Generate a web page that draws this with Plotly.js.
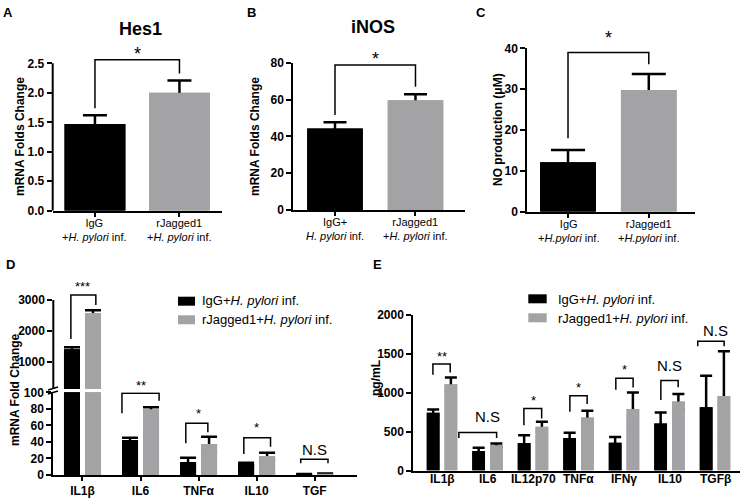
<!DOCTYPE html>
<html><head><meta charset="utf-8">
<script src="https://cdn.plot.ly/plotly-3.0.1.min.js"></script>
<style>html,body{margin:0;padding:0;background:#fff}#chart{width:742px;height:498px}</style>
</head><body><div id="chart"></div>
<script>
// ---------- Panel A: Hes1 ----------
const aGroups = ['IgG', 'rJagged1'];
const aSub = ['+<i>H. pylori</i> inf.', '+<i>H. pylori</i> inf.'];
const aMean = [1.47, 2.00];
const aErr = [0.15, 0.21];
const aSig = {top: 2.56, left: 1.74, right: 2.33, text: '*'};
// ---------- Panel B: iNOS ----------
const bGroups = ['IgG+', 'rJagged1'];
const bSub = ['<i>H. pylori</i> inf.', '+<i>H. pylori</i> inf.'];
const bMean = [44.2, 59.6];
const bErr = [3.4, 3.2];
const bSig = {top: 78.8, left: 51.6, right: 67.0, text: '*'};
// ---------- Panel C: NO production ----------
const cGroups = ['IgG', 'rJagged1'];
const cSub = ['+<i>H.pylori</i> inf.', '+<i>H.pylori</i> inf.'];
const cMean = [12.1, 29.8];
const cErr = [3.0, 3.9];
const cSig = {top: 39.0, left: 18.0, right: 36.1, text: '*'};
// ---------- Panel D: mRNA fold change ----------
const dCats = ['IL1β', 'IL6', 'TNFα', 'IL10', 'TGF'];
const dIgG = [1400, 42.3, 15.7, 13.3, 1.0];
const dIgGErr = [65, 2.7, 5.3, 1.6, 0.3];
const dJag = [2580, 79.4, 37.5, 23.0, 1.5];
const dJagErr = [85, 2.5, 8.8, 4.0, 0.4];
const dSigText = ['***', '**', '*', '*', 'N.S'];
const dSigTop = [3166, 98.8, 62.5, 45.1, 19.0];
const dSigLeft = [1737, 74.6, 38.3, 25.4, 14.1];
const dSigRight = [2840, 89.8, 51.6, 34.2, 14.1];
const dSigAxis = ['y6', 'y4', 'y4', 'y4', 'y4'];
const dLegL = [-0.20, -0.32, -0.22, -0.22, -0.24];
const dLegR = [0.23, 0.32, 0.16, 0.24, 0.23];
// ---------- Panel E: cytokines pg/mL ----------
const eCats = ['IL1β', 'IL6', 'IL12p70', 'TNFα', 'IFNγ', 'IL10', 'TGFβ'];
const eIgG = [743, 250, 354, 419, 358, 605, 812];
const eIgGErr = [43, 44, 100, 65, 74, 142, 406];
const eJag = [1110, 324, 562, 683, 790, 886, 959];
const eJagErr = [87, 22, 64, 86, 212, 99, 574];
const eSigText = ['**', 'N.S', '*', '*', '*', 'N.S', 'N.S'];
const eSigTop = [1369, 488, 799, 963, 1188, 1158, 1663];
const eSigLeft = [1231, 419, 583, 756, 1037, 907, 1598];
const eSigRight = [1261, 419, 670, 855, 1067, 1071, 1598];
const eLegL = [-0.20, -0.63, -0.20, -0.19, -0.18, -0.19, -0.38];
const eLegR = [0.18, 0.20, 0.19, 0.19, 0.20, 0.19, 0.20];
const seriesNames = ['IgG+<i>H. pylori</i> inf.', 'rJagged1+<i>H. pylori</i> inf.'];

const BLACK = '#000000', GRAY = '#a3a3a6';
const F = 'Liberation Sans, Arial, Helvetica, sans-serif';
const W = 742, H = 498;
const X = px => px / W, Y = py => 1 - py / H;

function axis(extra) {
  return Object.assign({
    showgrid: false, zeroline: false, showline: true, linecolor: '#000', linewidth: 2,
    ticks: 'outside', tickcolor: '#000', tickwidth: 2, ticklen: 5,
    tickfont: {family: F, size: 12, color: '#000', weight: 'bold'}, fixedrange: true
  }, extra);
}
function catAxis(labels, extra) {
  return axis(Object.assign({
    tickmode: 'array', tickvals: labels.map((_, i) => i), ticktext: labels, ticklen: 4
  }, extra));
}
// bar with symmetric error bar, then the same bar redrawn on top so only the upper half shows
function barPair(xa, ya, vals, errs, color, w, off, capw) {
  const base = {type: 'bar', x: vals.map((_, i) => i), y: vals, xaxis: xa, yaxis: ya, width: w,
    marker: {color: color, line: {width: 0}}, hoverinfo: 'skip'};
  if (off !== null) base.offset = off;
  const withErr = Object.assign({}, base, {error_y: {type: 'data', symmetric: true, array: errs,
    color: '#000', thickness: 2.5, width: capw}});
  return [withErr, base];
}
function bracket(xa, ya, x0, x1, yl, top, yr, lw) {
  return {type: 'path', xref: xa, yref: ya,
    path: `M${x0},${yl} L${x0},${top} L${x1},${top} L${x1},${yr}`,
    line: {color: '#000', width: lw}};
}
function txt(text, x, y, xref, yref, size, weight, extra) {
  return Object.assign({text: text, x: x, y: y, xref: xref, yref: yref, showarrow: false,
    font: {family: F, size: size, color: '#000', weight: weight || 'normal'},
    xanchor: 'center', yanchor: 'middle'}, extra || {});
}

const upperOnly = arr => arr.map((v, i) => (dIgG[i] > 100 || dJag[i] > 100) ? v : null);

const data = [].concat(
  barPair('x', 'y', aMean, aErr, [BLACK, GRAY], 0.72, null, 12),
  barPair('x2', 'y2', bMean, bErr, [BLACK, GRAY], 0.69, null, 11.5),
  barPair('x3', 'y3', cMean, cErr, [BLACK, GRAY], 0.69, null, 17),
  barPair('x4', 'y4', dIgG, dIgGErr, BLACK, 0.276, -0.319, 8),
  barPair('x4', 'y4', dJag, dJagErr, GRAY, 0.276, 0.043, 8),
  barPair('x4', 'y6', upperOnly(dIgG), upperOnly(dIgGErr), BLACK, 0.276, -0.319, 8),
  barPair('x4', 'y6', upperOnly(dJag), upperOnly(dJagErr), GRAY, 0.276, 0.043, 8),
  barPair('x5', 'y5', eIgG, eIgGErr, BLACK, 0.28, -0.335, 6),
  barPair('x5', 'y5', eJag, eJagErr, GRAY, 0.28, 0.055, 6)
);

const shapes = [];
const ann = [];
// A/B/C brackets
[['x', 'y', aSig], ['x2', 'y2', bSig], ['x3', 'y3', cSig]].forEach(([xa, ya, s]) => {
  shapes.push(bracket(xa, ya, 0, 1, s.left, s.top, s.right, 1.5));
});
ann.push(txt(aSig.text, 0.5, Y(54), 'x', 'paper', 18));
ann.push(txt(bSig.text, 0.5, Y(59), 'x2', 'paper', 18));
ann.push(txt(cSig.text, 0.5, Y(38), 'x3', 'paper', 18));
// A y-axis line (top tick 2.5, range extended for bracket)
shapes.push({type: 'line', xref: 'x domain', yref: 'y', x0: 0, x1: 0, y0: 0, y1: 2.5, line: {color: '#000', width: 2}});
// D upper y-axis line
shapes.push({type: 'line', xref: 'x4 domain', yref: 'y6', x0: 0, x1: 0, y0: 114, y1: 3000, line: {color: '#000', width: 2}});
// D axis break marks
shapes.push({type: 'line', xref: 'paper', yref: 'paper', x0: X(48), x1: X(58), y0: Y(390), y1: Y(387), line: {color: '#000', width: 1.5}});
shapes.push({type: 'line', xref: 'paper', yref: 'paper', x0: X(48), x1: X(58), y0: Y(394), y1: Y(391), line: {color: '#000', width: 1.5}});
// D brackets
const dTextPx = [286, 385, null, null, null];
const dTextVal = [null, null, 74, 57.5, 30.5];
dCats.forEach((c, i) => {
  shapes.push(bracket('x4', dSigAxis[i], i + dLegL[i], i + dLegR[i], dSigLeft[i], dSigTop[i], dSigRight[i], 1.5));
  const fs = dSigText[i] === 'N.S' ? 15 : 13;
  if (dTextPx[i] !== null) ann.push(txt(dSigText[i], i, Y(dTextPx[i]), 'x4', 'paper', fs));
  else ann.push(txt(dSigText[i], i, dTextVal[i], 'x4', 'y4', fs));
});
// E brackets
const eTextY = [1470, 690, 905, 1065, 1300, 1345, 1800];
eCats.forEach((c, i) => {
  shapes.push(bracket('x5', 'y5', i + eLegL[i], i + eLegR[i], eSigLeft[i], eSigTop[i], eSigRight[i], 1.5));
  ann.push(txt(eSigText[i], i, eTextY[i], 'x5', 'y5', eSigText[i] === 'N.S' ? 15 : 13));
  ann.push(txt(c, i, Y(479), 'x5', 'paper', 12, 'bold'));
});
// two-line category labels of A/B/C
[['x', aGroups, aSub, 210.7], ['x2', bGroups, bSub, 210], ['x3', cGroups, cSub, 211.7]].forEach(([xa, g, sub, ax]) => {
  g.forEach((s, i) => ann.push(txt(s + '<br>' + sub[i], i, Y(ax + 4), xa, 'paper', 11, 'normal', {yanchor: 'top'})));
});
// panel letters
[['A', 8, 12.5], ['B', 252, 12.5], ['C', 481, 12.5], ['D', 10, 264], ['E', 377, 264]].forEach(([t, x, y]) =>
  ann.push(txt(t, X(x), Y(y), 'paper', 'paper', 13, 'bold')));
// titles
ann.push(txt('Hes1', X(140), Y(29), 'paper', 'paper', 18, 'bold'));
ann.push(txt('iNOS', X(373), Y(27), 'paper', 'paper', 18, 'bold'));
// y titles
[['mRNA Folds Change', 20, 137], ['mRNA Folds Change', 255, 137], ['NO production (μM)', 498, 130],
 ['mRNA Fold Change', 15, 390], ['pg/mL', 376, 378]].forEach(([t, x, y]) =>
  ann.push(txt(t, X(x), Y(y), 'paper', 'paper', 12, 'bold', {textangle: -90})));
// legends (D and E)
[[178, 195, 200, 296.7, 315.3, 300.7, 319.3], [528.3, 546.7, 556, 294.3, 313.3, 299.7, 318.3]].forEach(
  ([x0, x1, tx, r1, r2, t1, t2]) => {
    [[r1, t1, BLACK], [r2, t2, GRAY]].forEach(([ry, ty, col], k) => {
      shapes.push({type: 'rect', xref: 'paper', yref: 'paper', x0: X(x0), x1: X(x1), y0: Y(ry), y1: Y(ry + 9),
        fillcolor: col, line: {width: 0}});
      ann.push(txt(seriesNames[k], X(tx), Y(ty), 'paper', 'paper', 13, 'normal', {xanchor: 'left'}));
    });
  });

const layout = {
  width: W, height: H, margin: {l: 0, r: 0, t: 0, b: 0},
  paper_bgcolor: '#fff', plot_bgcolor: 'rgba(0,0,0,0)', showlegend: false, barmode: 'overlay',
  font: {family: F, color: '#000'},
  xaxis: catAxis(aGroups, {domain: [X(52.7), X(221.7)], range: [-0.5, 1.5], anchor: 'y', showticklabels: false}),
  yaxis: axis({domain: [Y(210.7), Y(56.3)], range: [0, 2.62], dtick: 0.5, tick0: 0, tickformat: '.1f', showline: false, anchor: 'x'}),
  xaxis2: catAxis(bGroups, {domain: [X(293.3), X(465)], range: [-0.518, 1.615], anchor: 'y2', showticklabels: false}),
  yaxis2: axis({domain: [Y(210), Y(62.7)], range: [0, 80], dtick: 20, anchor: 'x2'}),
  xaxis3: catAxis(cGroups, {domain: [X(527.3), X(695)], range: [-0.504, 1.572], anchor: 'y3', showticklabels: false}),
  yaxis3: axis({domain: [Y(211.7), Y(48.3)], range: [0, 40], dtick: 10, anchor: 'x3'}),
  xaxis4: catAxis(dCats, {domain: [X(53.3), X(357)], range: [-0.503, 4.73], anchor: 'y4'}),
  yaxis4: axis({domain: [Y(475), Y(392.3)], range: [0, 100], dtick: 20, anchor: 'x4'}),
  yaxis6: axis({domain: [Y(389), Y(293)], range: [114, 3227], tickmode: 'array', tickvals: [1000, 2000, 3000], showline: false, anchor: 'x4'}),
  xaxis5: catAxis(eCats, {domain: [X(413.3), X(740)], range: [-0.631, 6.549], anchor: 'y5', ticks: '', showticklabels: false}),
  yaxis5: axis({domain: [Y(470.5), Y(315)], range: [0, 2000], dtick: 500, anchor: 'x5'}),
  shapes: shapes,
  annotations: ann
};

Plotly.newPlot('chart', data, layout, {staticPlot: true, displayModeBar: false});
</script>
</body></html>
